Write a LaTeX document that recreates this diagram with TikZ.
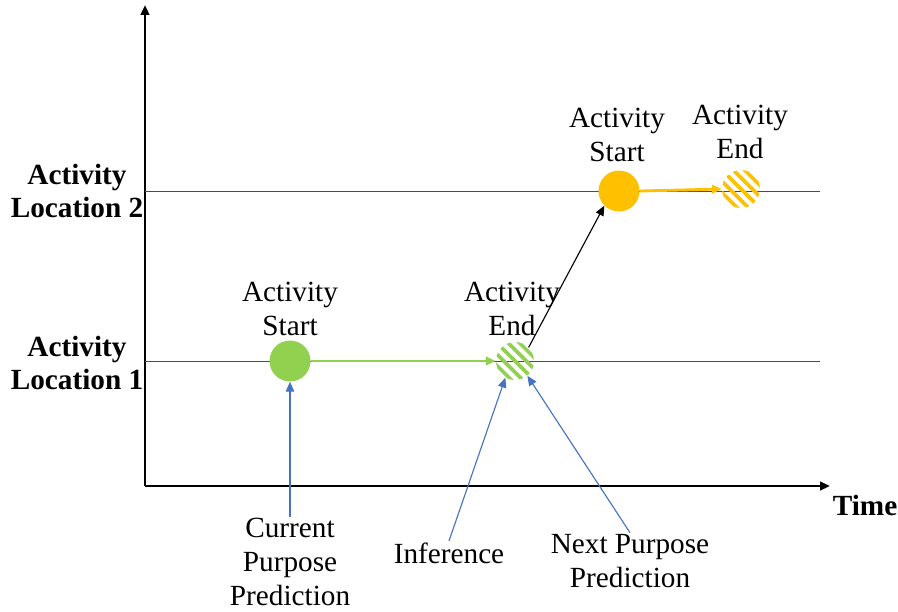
\documentclass[tikz,border=0pt]{standalone}
\usepackage{fontspec}
\setmainfont{Liberation Serif}
\usepackage{xcolor}
\usetikzlibrary{arrows.meta,positioning}
\definecolor{actgreen}{HTML}{92D050}
\definecolor{actorange}{HTML}{FFC000}
\definecolor{predblue}{HTML}{4472C4}
\tikzset{
  lbl/.style={align=center, font=\fontsize{20.8}{24}\selectfont, inner sep=1pt},
  boldlbl/.style={align=center, font=\fontsize{20.8}{24}\selectfont\bfseries, inner sep=1pt},
  startdot/.style={circle, fill=#1, minimum size=41*0.025cm, inner sep=0pt},
  enddot/.style={circle, minimum size=38*0.025cm, inner sep=0pt,
    path picture={
      \foreach \k in {-6,...,6}
        \draw[#1, line width=2.6pt]
          ([shift={(\k*0.1414cm-0.8cm,\k*0.1414cm+0.8cm)}]path picture bounding box.center)
          -- ++(1.6cm,-1.6cm);
    }},
}
\begin{document}
\begin{tikzpicture}[x=0.025cm,y=-0.025cm, >={Triangle[length=7pt,width=6pt]}]
  \useasboundingbox (0,0) rectangle (898,611);
  % axes
  \draw[line width=1.8pt, ->] (145,486) -- (145,5);
  \draw[line width=1.8pt, ->] (145,486) -- (830,486);
  % location lines
  \draw[black!70] (145,191) -- (820,191);
  \draw[black!70] (145,361) -- (820,361);
  \node[boldlbl] (loc2) at (77,191) {Activity\\Location 2};
  \node[boldlbl] (loc1) at (77,363) {Activity\\Location 1};
  \node[boldlbl] (time) at (865,505) {Time};
  % activities
  \node[startdot=actgreen] (s1) at (290,361) {};
  \node[enddot=actgreen] (e1) at (515,361) {};
  \node[startdot=actorange] (s2) at (619,191) {};
  \node[enddot=actorange] (e2) at (741,189) {};
  \node[lbl] (ts1) at (290,309) {Activity\\Start};
  \node[lbl] (te1) at (512,309) {Activity\\End};
  \node[lbl] (ts2) at (617,135) {Activity\\Start};
  \node[lbl] (te2) at (740,132) {Activity\\End};
  \draw[actgreen, line width=2pt, ->] (s1.east) -- (e1.west);
  \draw[actorange, line width=2pt, ->] (s2.east) -- (e2.west);
  \draw[line width=0.8pt, ->] (e1.north east) -- (s2.-135);
  % predictions
  \node[lbl] (cur) at (290,562) {Current\\Purpose\\Prediction};
  \node[lbl] (inf) at (449,553) {Inference};
  \node[lbl] (nxt) at (630,561) {Next Purpose\\Prediction};
  \draw[predblue, line width=0.8pt, ->] (cur.north) -- (s1.south);
  \draw[predblue, line width=0.8pt, ->] (inf.north) -- (e1.-120);
  \draw[predblue, line width=0.8pt, ->] (nxt.north) -- (e1.-50);
\end{tikzpicture}
\end{document}
